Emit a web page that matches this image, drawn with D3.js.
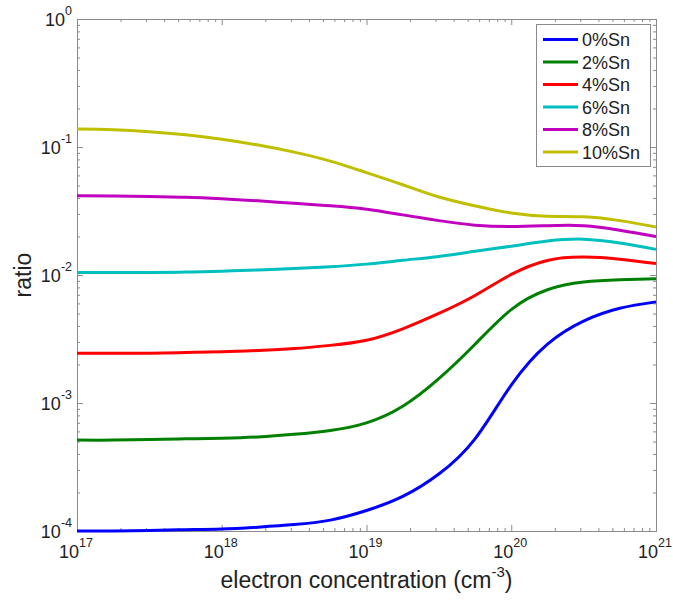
<!DOCTYPE html>
<html>
<head>
<meta charset="utf-8">
<script src="https://cdn.jsdelivr.net/npm/d3@7"></script>
<style>
  html, body { margin: 0; padding: 0; background: #fff; }
  svg { display: block; font-family: "Liberation Sans", Arial, sans-serif; }
</style>
</head>
<body>
<svg id="chart" width="673" height="601"></svg>
<script>
// Electron concentration (cm^-3), quarter-decade steps
const concentration = [1e17, 1.78e17, 3.16e17, 5.62e17, 1e18, 1.78e18, 3.16e18, 5.62e18, 1e19, 1.78e19, 3.16e19, 5.62e19, 1e20, 1.78e20, 3.16e20, 5.62e20, 1e21];

// Ratio for each Sn content
const sn0  = [1.00e-4, 1.00e-4, 1.01e-4, 1.023e-4, 1.035e-4, 1.072e-4, 1.122e-4, 1.216e-4, 1.445e-4, 1.862e-4, 2.786e-4, 5.248e-4, 1.38e-3, 2.884e-3, 4.365e-3, 5.495e-3, 6.166e-3];
const sn2  = [5.13e-4, 5.13e-4, 5.19e-4, 5.25e-4, 5.31e-4, 5.43e-4, 5.69e-4, 6.10e-4, 7.00e-4, 9.44e-4, 1.55e-3, 2.88e-3, 5.37e-3, 7.67e-3, 8.81e-3, 9.18e-3, 9.33e-3];
const sn4  = [2.45e-3, 2.45e-3, 2.45e-3, 2.48e-3, 2.51e-3, 2.57e-3, 2.66e-3, 2.82e-3, 3.09e-3, 3.80e-3, 5.01e-3, 6.92e-3, 1.01e-2, 1.30e-2, 1.38e-2, 1.33e-2, 1.23e-2];
const sn6  = [1.047e-2, 1.047e-2, 1.047e-2, 1.054e-2, 1.072e-2, 1.096e-2, 1.122e-2, 1.161e-2, 1.216e-2, 1.303e-2, 1.396e-2, 1.531e-2, 1.679e-2, 1.841e-2, 1.905e-2, 1.778e-2, 1.585e-2];
const sn8  = [4.17e-2, 4.15e-2, 4.11e-2, 4.05e-2, 3.94e-2, 3.80e-2, 3.63e-2, 3.47e-2, 3.27e-2, 2.95e-2, 2.66e-2, 2.45e-2, 2.39e-2, 2.43e-2, 2.43e-2, 2.24e-2, 2.00e-2];
const sn10 = [0.138, 0.1365, 0.1318, 0.1245, 0.1148, 0.1035, 0.0912, 0.0776, 0.0631, 0.0507, 0.0407, 0.0347, 0.0305, 0.0288, 0.0285, 0.0266, 0.0237];

const seriesNames = ["0%Sn", "2%Sn", "4%Sn", "6%Sn", "8%Sn", "10%Sn"];
const seriesValues = [sn0, sn2, sn4, sn6, sn8, sn10];
const seriesColors = ["#0000ff", "#008000", "#ff0000", "#00bfbf", "#bf00bf", "#bfbf00"];

// Tick labels: base 10 with exponent
const xTickExponents = ["17", "18", "19", "20", "21"];
const yTickExponents = ["0", "-1", "-2", "-3", "-4"];

const svg = d3.select("#chart");
const mLeft = 77, mRight = 656, mTop = 19, mBottom = 531;
const axisColor = "#8a8a8a";

const x = d3.scaleLog().domain([1e17, 1e21]).range([mLeft, mRight]);
const y = d3.scaleLog().domain([1e-4, 1]).range([mBottom, mTop]);

// Major and minor tick positions for the log axes
function logTicks(lo, hi) {
  const major = [], minor = [];
  for (let e = lo; e <= hi; e++) {
    major.push(Math.pow(10, e));
    if (e < hi) for (let m = 2; m <= 9; m++) minor.push(m * Math.pow(10, e));
  }
  return { major, minor };
}
const xt = logTicks(17, 21), yt = logTicks(-4, 0);

function drawAxis(axisFn, scale, values, size, transform) {
  const g = svg.append("g").attr("transform", transform)
    .call(axisFn(scale).tickValues(values).tickSizeInner(size).tickSizeOuter(0).tickFormat(""));
  g.select(".domain").attr("stroke", axisColor).attr("stroke-width", 1);
  g.selectAll(".tick line").attr("stroke", axisColor).attr("stroke-width", 1);
  return g;
}

// Ticks point inward on all four sides of the box
[[xt.minor, 3], [xt.major, 6]].forEach(([v, s]) => {
  drawAxis(d3.axisBottom, x, v, -s, `translate(0,${mBottom})`);
  drawAxis(d3.axisTop, x, v, -s, `translate(0,${mTop})`);
});
[[yt.minor, 3], [yt.major, 6]].forEach(([v, s]) => {
  drawAxis(d3.axisLeft, y, v, -s, `translate(${mLeft},0)`);
  drawAxis(d3.axisRight, y, v, -s, `translate(${mRight},0)`);
});

// Curves: smooth cubic spline through the sampled points
const line = d3.line()
  .x(d => x(d[0]))
  .y(d => y(d[1]))
  .curve(d3.curveNatural);

const plot = svg.append("g");
seriesValues.forEach((vals, i) => {
  plot.append("path")
    .datum(concentration.map((c, j) => [c, vals[j]]))
    .attr("d", line)
    .attr("fill", "none")
    .attr("stroke", seriesColors[i])
    .attr("stroke-width", 3)
    .attr("stroke-linejoin", "round");
});

// Tick labels
xt.major.forEach((v, i) => {
  const t = svg.append("text")
    .attr("x", x(v) - 1).attr("y", mBottom + 27)
    .attr("text-anchor", "middle")
    .attr("font-size", 18).attr("fill", "#222");
  t.append("tspan").text("10");
  t.append("tspan").attr("dy", -11).attr("font-size", 12.5).text(xTickExponents[i]);
});
yt.major.slice().reverse().forEach((v, i) => {
  const t = svg.append("text")
    .attr("x", mLeft - 5).attr("y", y(v) + 7)
    .attr("text-anchor", "end")
    .attr("font-size", 18).attr("fill", "#222");
  t.append("tspan").text("10");
  t.append("tspan").attr("dy", -11).attr("font-size", 12.5).text(yTickExponents[i]);
});

// Axis titles
const xTitle = svg.append("text")
  .attr("x", (mLeft + mRight) / 2).attr("y", 588)
  .attr("text-anchor", "middle")
  .attr("font-size", 23).attr("fill", "#222");
xTitle.append("tspan").text("electron concentration (cm");
xTitle.append("tspan").attr("dy", -11).attr("font-size", 15).text("-3");
xTitle.append("tspan").attr("dy", 11).text(")");

svg.append("text")
  .attr("transform", `translate(31,${(mTop + mBottom) / 2}) rotate(-90)`)
  .attr("text-anchor", "middle")
  .attr("font-size", 23).attr("fill", "#222")
  .text("ratio");

// Legend
const legend = svg.append("g");
legend.append("rect")
  .attr("x", 536.5).attr("y", 24.5).attr("width", 114).attr("height", 142)
  .attr("fill", "#fff").attr("stroke", axisColor).attr("stroke-width", 1);
seriesNames.forEach((name, i) => {
  const ly = 39.5 + i * 22.5;
  legend.append("line")
    .attr("x1", 543).attr("x2", 578).attr("y1", ly).attr("y2", ly)
    .attr("stroke", seriesColors[i]).attr("stroke-width", 3);
  legend.append("text")
    .attr("x", 582).attr("y", ly + 6.5)
    .attr("font-size", 18).attr("fill", "#222")
    .text(name);
});
</script>
</body>
</html>
